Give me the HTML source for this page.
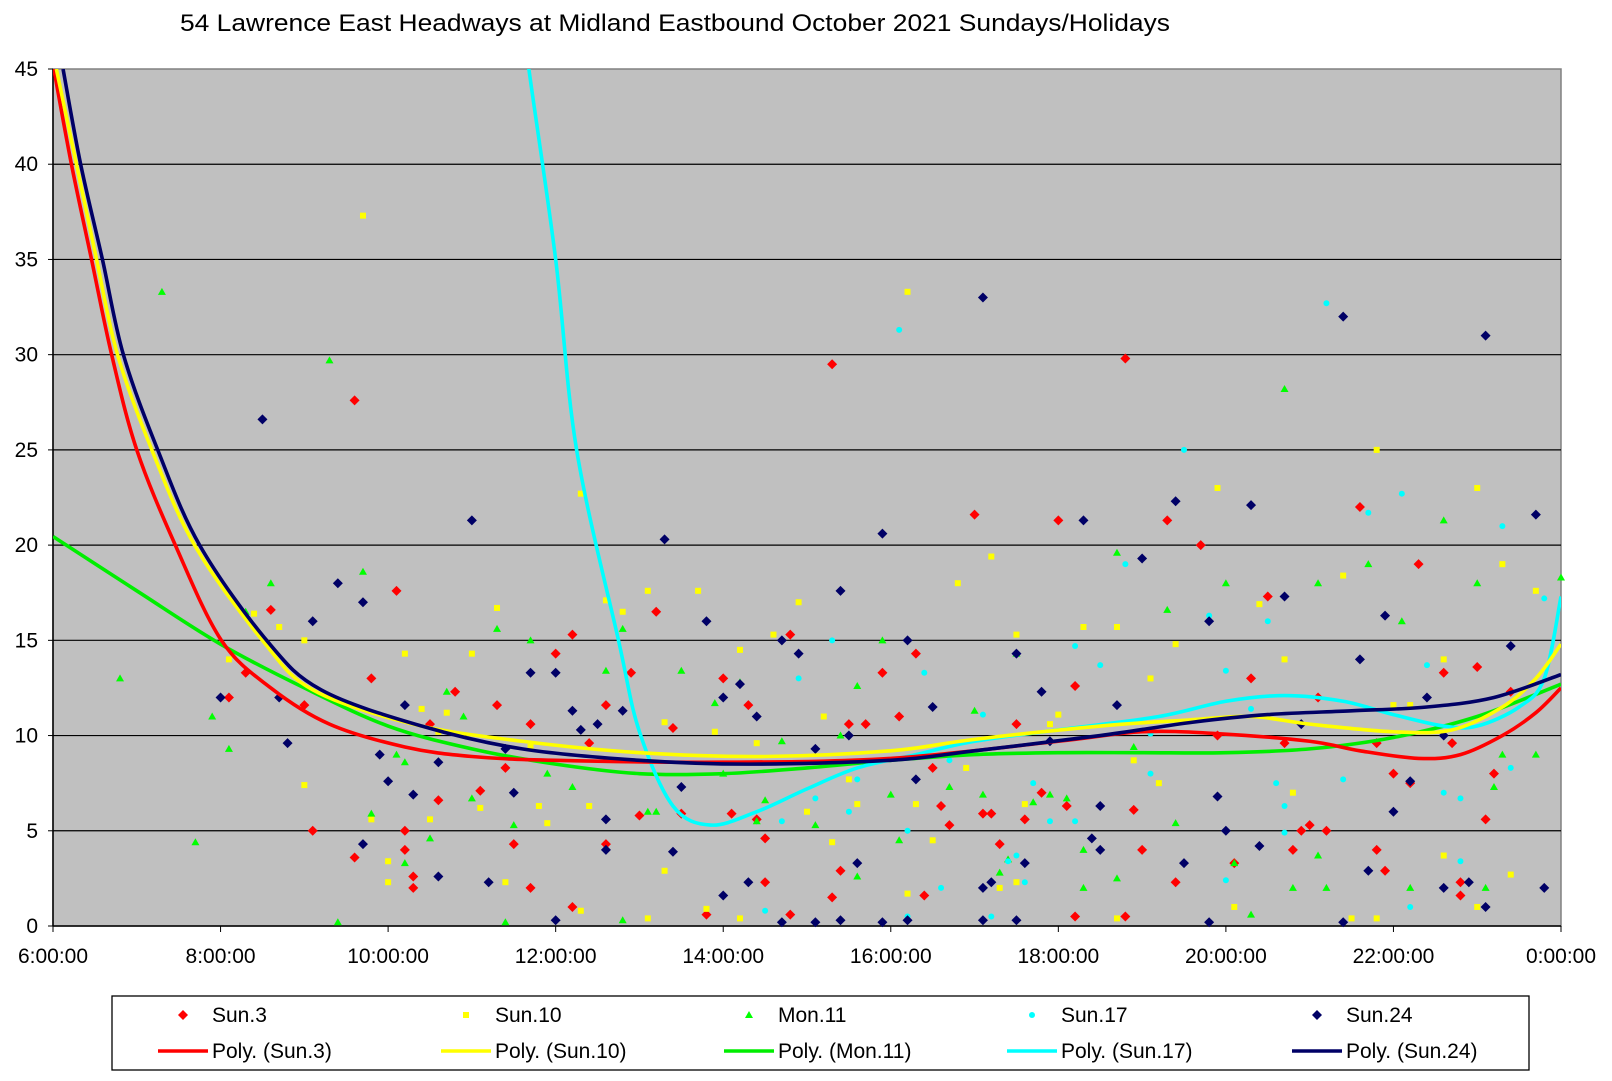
<!DOCTYPE html>
<html><head><meta charset="utf-8">
<style>
html,body{margin:0;padding:0;background:#fff;}
svg{display:block;font-family:"Liberation Sans",sans-serif;}
</style></head>
<body>
<svg id="chart" width="1612" height="1081" viewBox="0 0 1612 1081" xmlns="http://www.w3.org/2000/svg">
<text x="180" y="31" font-size="24" textLength="990" lengthAdjust="spacingAndGlyphs" fill="#000">54 Lawrence East Headways at Midland Eastbound October 2021  Sundays/Holidays</text>
<rect x="53" y="69" width="1508" height="857" fill="#c0c0c0" stroke="#808080" stroke-width="1.5"/>
<g id="grid"></g>
<g id="axes"></g>
<defs><clipPath id="clip"><rect x="53" y="69" width="1508" height="857"/></clipPath></defs>
<g id="points"></g>
<g id="trends" clip-path="url(#clip)"></g>
<g id="legend"></g>
</svg>
<script>
const xTicks=[6,8,10,12,14,16,18,20,22,24];
const xTickLabels=["6:00:00","8:00:00","10:00:00","12:00:00","14:00:00","16:00:00","18:00:00","20:00:00","22:00:00","0:00:00"];
const yTicks=[0,5,10,15,20,25,30,35,40,45];
const seriesNames=["Sun.3","Sun.10","Mon.11","Sun.17","Sun.24"];
const sun3=[[8.1,12],[8.3,13.3],[8.6,16.6],[9.0,11.6],[9.1,5],[9.6,27.6],[9.6,3.6],[9.8,13],[10.1,17.6],[10.2,4],[10.2,5],[10.3,2],[10.3,2.6],[10.5,10.6],[10.6,6.6],[10.8,12.3],[11.1,7.1],[11.3,11.6],[11.4,8.3],[11.5,4.3],[11.7,10.6],[11.7,2],[12.0,14.3],[12.2,15.3],[12.2,1],[12.4,9.6],[12.6,11.6],[12.6,4.3],[12.9,13.3],[13.0,5.8],[13.2,16.5],[13.4,10.4],[13.5,5.9],[13.8,0.6],[14.0,13],[14.1,5.9],[14.3,11.6],[14.4,5.6],[14.5,4.6],[14.5,2.3],[14.8,15.3],[14.8,0.6],[15.3,29.5],[15.3,1.5],[15.4,2.9],[15.5,10.6],[15.7,10.6],[15.9,13.3],[16.1,11],[16.3,14.3],[16.4,1.6],[16.5,8.3],[16.6,6.3],[16.7,5.3],[17.0,21.6],[17.1,5.9],[17.2,5.9],[17.3,4.3],[17.5,10.6],[17.6,5.6],[17.8,7],[18.0,21.3],[18.1,6.3],[18.2,12.6],[18.2,0.5],[18.8,29.8],[18.8,0.5],[18.9,6.1],[19.0,4],[19.3,21.3],[19.4,2.3],[19.7,20],[19.9,10],[20.1,3.3],[20.3,13],[20.5,17.3],[20.7,9.6],[20.8,4],[20.9,5],[21.0,5.3],[21.1,12],[21.2,5],[21.6,22],[21.8,9.6],[21.8,4],[21.9,2.9],[22.0,8],[22.2,7.5],[22.3,19],[22.6,13.3],[22.7,9.6],[22.8,1.6],[22.8,2.3],[23.0,13.6],[23.1,5.6],[23.2,8],[23.4,12.3]];
const sun10=[[8.1,14],[8.4,16.4],[8.7,15.7],[9.0,15],[9.0,7.4],[9.7,37.3],[9.8,5.6],[10.0,2.3],[10.0,3.4],[10.2,14.3],[10.4,11.4],[10.5,5.6],[10.6,10.2],[10.7,11.2],[11.0,14.3],[11.1,6.2],[11.3,16.7],[11.4,2.3],[11.7,9.4],[11.8,6.3],[11.9,5.4],[12.3,22.7],[12.3,0.8],[12.4,6.3],[12.6,17.1],[12.8,16.5],[13.1,17.6],[13.1,0.4],[13.3,10.7],[13.3,2.9],[13.7,17.6],[13.8,0.9],[13.9,10.2],[14.2,14.5],[14.2,0.4],[14.4,9.6],[14.6,15.3],[14.9,17],[15.0,6],[15.2,11],[15.3,4.4],[15.5,7.7],[15.6,6.4],[16.2,33.3],[16.2,1.7],[16.3,6.4],[16.5,4.5],[16.8,18],[16.9,8.3],[17.2,19.4],[17.3,2],[17.5,15.3],[17.5,2.3],[17.6,6.4],[17.9,10.6],[18.0,11.1],[18.3,15.7],[18.7,15.7],[18.7,0.4],[18.9,8.7],[19.1,13],[19.2,7.5],[19.4,14.8],[19.9,23],[20.1,1],[20.4,16.9],[20.7,14],[20.8,7],[21.4,18.4],[21.5,0.4],[21.8,25],[21.8,0.4],[22.0,11.6],[22.2,11.6],[22.6,14],[22.6,3.7],[23.0,23],[23.0,1],[23.3,19],[23.4,2.7],[23.7,17.6]];
const mon11=[[6.8,13],[7.3,33.3],[7.7,4.4],[7.9,11],[8.1,9.3],[8.3,16.5],[8.6,18],[9.3,29.7],[9.4,0.2],[9.7,18.6],[9.8,5.9],[10.1,9],[10.2,8.6],[10.2,3.3],[10.5,4.6],[10.7,12.3],[10.9,11],[11.0,6.7],[11.3,15.6],[11.4,0.2],[11.5,5.3],[11.7,15],[11.9,8],[12.2,7.3],[12.6,13.4],[12.8,15.6],[12.8,0.3],[13.1,6],[13.2,6],[13.5,13.4],[13.9,11.7],[14.0,8],[14.2,12.8],[14.4,5.5],[14.5,6.6],[14.7,9.7],[15.1,5.3],[15.4,10],[15.6,12.6],[15.9,15],[16.0,6.9],[15.6,2.6],[16.1,4.5],[16.7,7.3],[17.0,11.3],[17.1,6.9],[17.3,2.8],[17.4,3.5],[17.5,14.3],[17.7,6.5],[17.9,6.9],[18.1,6.7],[18.3,2],[18.3,4],[18.7,19.6],[18.7,2.5],[18.9,9.4],[19.3,16.6],[19.4,5.4],[20.0,18],[20.1,3.3],[20.3,0.6],[20.7,28.2],[20.8,2],[21.1,3.7],[21.1,18],[21.2,2],[21.7,19],[22.1,16],[22.2,2],[22.6,21.3],[23.0,18],[23.1,2],[23.2,7.3],[23.3,9],[23.7,9],[24.0,18.3]];
const sun17=[[14.5,0.8],[14.7,5.5],[14.9,13],[15.1,6.7],[15.3,15],[15.5,6],[15.6,7.7],[16.1,31.3],[16.2,5],[16.2,0.5],[16.4,13.3],[16.6,2],[16.7,8.7],[17.1,11.1],[17.2,0.5],[17.4,3.4],[17.5,3.7],[17.6,2.3],[17.7,7.5],[17.9,5.5],[18.2,14.7],[18.2,5.5],[18.5,13.7],[18.8,19],[19.1,8],[19.1,10.1],[19.5,25],[19.8,16.3],[20.0,13.4],[20.0,2.4],[20.3,11.4],[20.5,16],[20.6,7.5],[20.7,6.3],[20.7,4.9],[21.2,32.7],[21.4,7.7],[21.7,21.7],[22.1,22.7],[22.2,1],[22.4,13.7],[22.6,7],[22.8,6.7],[22.8,3.4],[23.1,1],[23.3,21],[23.4,8.3],[23.8,17.2]];
const sun24=[[8.0,12],[8.5,26.6],[8.7,12],[8.8,9.6],[9.1,16],[9.4,18],[9.7,17],[9.7,4.3],[9.9,9],[10.0,7.6],[10.2,11.6],[10.3,6.9],[10.6,8.6],[10.6,2.6],[11.0,21.3],[11.2,2.3],[11.4,9.3],[11.5,7],[11.7,13.3],[12.0,13.3],[12.0,0.3],[12.2,11.3],[12.3,10.3],[12.5,10.6],[12.6,4],[12.6,5.6],[12.8,11.3],[13.3,20.3],[13.4,3.9],[13.5,7.3],[13.8,16],[14.0,12],[14.0,1.6],[14.2,12.7],[14.3,2.3],[14.4,11],[14.7,15],[14.7,0.2],[14.9,14.3],[15.1,9.3],[15.1,0.2],[15.4,17.6],[15.4,0.3],[15.5,10],[15.6,3.3],[15.9,0.2],[15.9,20.6],[16.2,15],[16.2,0.3],[16.3,7.7],[16.5,11.5],[17.1,33],[17.1,0.3],[17.1,2],[17.2,2.3],[17.5,14.3],[17.5,0.3],[17.6,3.3],[17.8,12.3],[17.9,9.7],[18.3,21.3],[18.4,4.6],[18.5,6.3],[18.5,4],[18.7,11.6],[19.0,19.3],[19.4,22.3],[19.5,3.3],[19.8,16],[19.8,0.2],[19.9,6.8],[20.0,5],[20.3,22.1],[20.4,4.2],[20.7,17.3],[20.9,10.6],[21.4,32],[21.4,0.2],[21.6,14],[21.7,2.9],[21.9,16.3],[22.0,6],[22.2,7.6],[22.4,12],[22.6,10],[22.6,2],[22.9,2.3],[23.1,31],[23.1,1],[23.4,14.7],[23.7,21.6],[23.8,2]];
const trendSun3=[[6.01,45],[6.22,40],[6.46,35],[6.70,30],[7.0,25],[7.46,20],[8.01,15],[8.6,12.5],[9.3,10.6],[10.2,9.4],[11.0,8.9],[12.0,8.7],[14.0,8.6],[16.0,8.8],[18.0,9.7],[19.0,10.2],[19.9,10.1],[21.0,9.7],[21.6,9.2],[22.3,8.8],[22.8,9.0],[23.3,10],[23.7,11.2],[24,12.5]];
const trendSun10=[[6.04,45],[6.28,40],[6.52,35],[6.77,30],[7.18,25],[7.69,20],[8.5,15],[9.1,12.4],[10.3,10.6],[11.6,9.7],[13.0,9.1],[14.5,8.9],[16.0,9.2],[17.0,9.8],[18.5,10.5],[19.5,10.8],[20.3,11],[21.0,10.6],[22.0,10.2],[22.7,10.3],[23.3,11.5],[23.7,13],[24,14.8]];
const trendMon11=[[6,20.45],[7,17.6],[8,14.8],[9,12.5],[10,10.5],[11,9.3],[12,8.5],[13,8.0],[14,8.0],[15,8.3],[16,8.7],[17,9.0],[18,9.1],[19,9.1],[20,9.1],[21,9.3],[22,9.9],[23,11],[24,12.7]];
const trendSun17=[[11.6,48],[11.68,45],[12.0,35],[12.25,25],[12.75,15],[13.0,10.2],[13.4,6.3],[13.85,5.3],[14.4,6.0],[15.0,7.2],[15.6,8.3],[16.3,9],[17.0,9.7],[18.0,10.3],[19.2,11],[20.0,11.8],[20.7,12.1],[21.4,11.8],[22.0,11.1],[22.6,10.5],[23.0,10.5],[23.5,11.5],[23.8,13],[24,17.3]];
const trendSun24=[[6.12,45],[6.33,40],[6.59,35],[6.84,30],[7.25,25],[7.75,20],[8.55,15],[9.2,12.4],[10.4,10.5],[11.6,9.3],[13.0,8.7],[14.3,8.5],[16.0,8.7],[17.0,9.2],[18.5,10.0],[19.6,10.7],[20.5,11.1],[21.5,11.3],[22.4,11.5],[23.2,12],[24,13.2]];

const NS="http://www.w3.org/2000/svg";
const X0=53,X1=1561,Y0=926,Y1=69;
function xs(h){return X0+(h-6)/18*(X1-X0);}
function ys(v){return Y0-v/45*(Y0-Y1);}
function mk(tag,attrs,parent){const e=document.createElementNS(NS,tag);for(const k in attrs)e.setAttribute(k,attrs[k]);parent.appendChild(e);return e;}
const grid=document.getElementById('grid'),axes=document.getElementById('axes');
yTicks.forEach(v=>{
  if(v>0&&v<45){const l=mk('line',{x1:X0,x2:X1,y1:ys(v),y2:ys(v),stroke:'#000','stroke-width':1.2},grid);
  
  }
  const t=mk('text',{x:38,y:ys(v)+7,'text-anchor':'end','font-size':21},axes);t.textContent=v;
  
  
  mk('line',{x1:X0-5,x2:X0,y1:ys(v),y2:ys(v),stroke:'#000'},axes);
});
xTicks.forEach((h,i)=>{
  const t=mk('text',{x:xs(h),y:963,'text-anchor':'middle','font-size':21},axes);t.textContent=xTickLabels[i];
  
  
  mk('line',{x1:xs(h),x2:xs(h),y1:Y0,y2:Y0+6,stroke:'#000'},axes);
});
mk('line',{x1:X0,x2:X0,y1:Y1,y2:Y0,stroke:'#000','stroke-width':1.5},axes);
mk('line',{x1:X0,x2:X1,y1:Y0,y2:Y0,stroke:'#000','stroke-width':1.5},axes);

const colors=["#ff0000","#ffff00","#00ff00","#00ffff","#000066"];
const shapes=["diamond","square","triangle","circle","diamond"];
function marker(shape,cx,cy,col,parent){
  if(shape==="diamond")return mk('polygon',{points:`${cx},${cy-5} ${cx+5},${cy} ${cx},${cy+5} ${cx-5},${cy}`,fill:col},parent);
  if(shape==="square")return mk('rect',{x:cx-3,y:cy-3,width:6,height:6,fill:col},parent);
  if(shape==="triangle")return mk('polygon',{points:`${cx},${cy-4} ${cx+4},${cy+3} ${cx-4},${cy+3}`,fill:col},parent);
  return mk('circle',{cx:cx,cy:cy,r:3,fill:col},parent);
}
const pts=document.getElementById('points');
[sun3,sun10,mon11,sun17,sun24].forEach((s,si)=>{
  s.forEach(p=>{const m=marker(shapes[si],xs(p[0]),ys(p[1]),colors[si],pts);
    
    });
});
function smooth(arr){
  const P=arr.map(p=>[xs(p[0]),ys(p[1])]);
  let d=`M${P[0][0]},${P[0][1]}`;
  for(let i=0;i<P.length-1;i++){
    const p0=P[i-1]||P[i],p1=P[i],p2=P[i+1],p3=P[i+2]||P[i+1];
    const c1=[p1[0]+(p2[0]-p0[0])/6,p1[1]+(p2[1]-p0[1])/6];
    const c2=[p2[0]-(p3[0]-p1[0])/6,p2[1]-(p3[1]-p1[1])/6];
    d+=` C${c1[0]},${c1[1]} ${c2[0]},${c2[1]} ${p2[0]},${p2[1]}`;
  }
  return d;
}
const tr=document.getElementById('trends');
const trendCols=["#ff0000","#ffff00","#00ee00","#00ffff","#000066"];
[trendMon11,trendSun17,trendSun3,trendSun10,trendSun24].forEach((t,i)=>{
  const idx=[2,3,0,1,4][i];
  const p=mk('path',{d:smooth(t),fill:'none',stroke:trendCols[idx],'stroke-width':3.6},tr);
  
  
});
const lg=document.getElementById('legend');
mk('rect',{x:112,y:996,width:1417,height:74,fill:'#fff',stroke:'#000','stroke-width':1.3},lg);
const lx=[183,466,749,1032,1317];
seriesNames.forEach((n,i)=>{
  marker(shapes[i],lx[i],1015,colors[i],lg);
  const t=mk('text',{x:lx[i]+29,y:1022,'font-size':21},lg);t.textContent=n;
  
  
  mk('line',{x1:lx[i]-25,x2:lx[i]+25,y1:1051,y2:1051,stroke:trendCols[i],'stroke-width':3.6},lg);
  const t2=mk('text',{x:lx[i]+29,y:1058,'font-size':21},lg);t2.textContent='Poly. ('+n+')';
  
  
});
</script>
</body></html>
